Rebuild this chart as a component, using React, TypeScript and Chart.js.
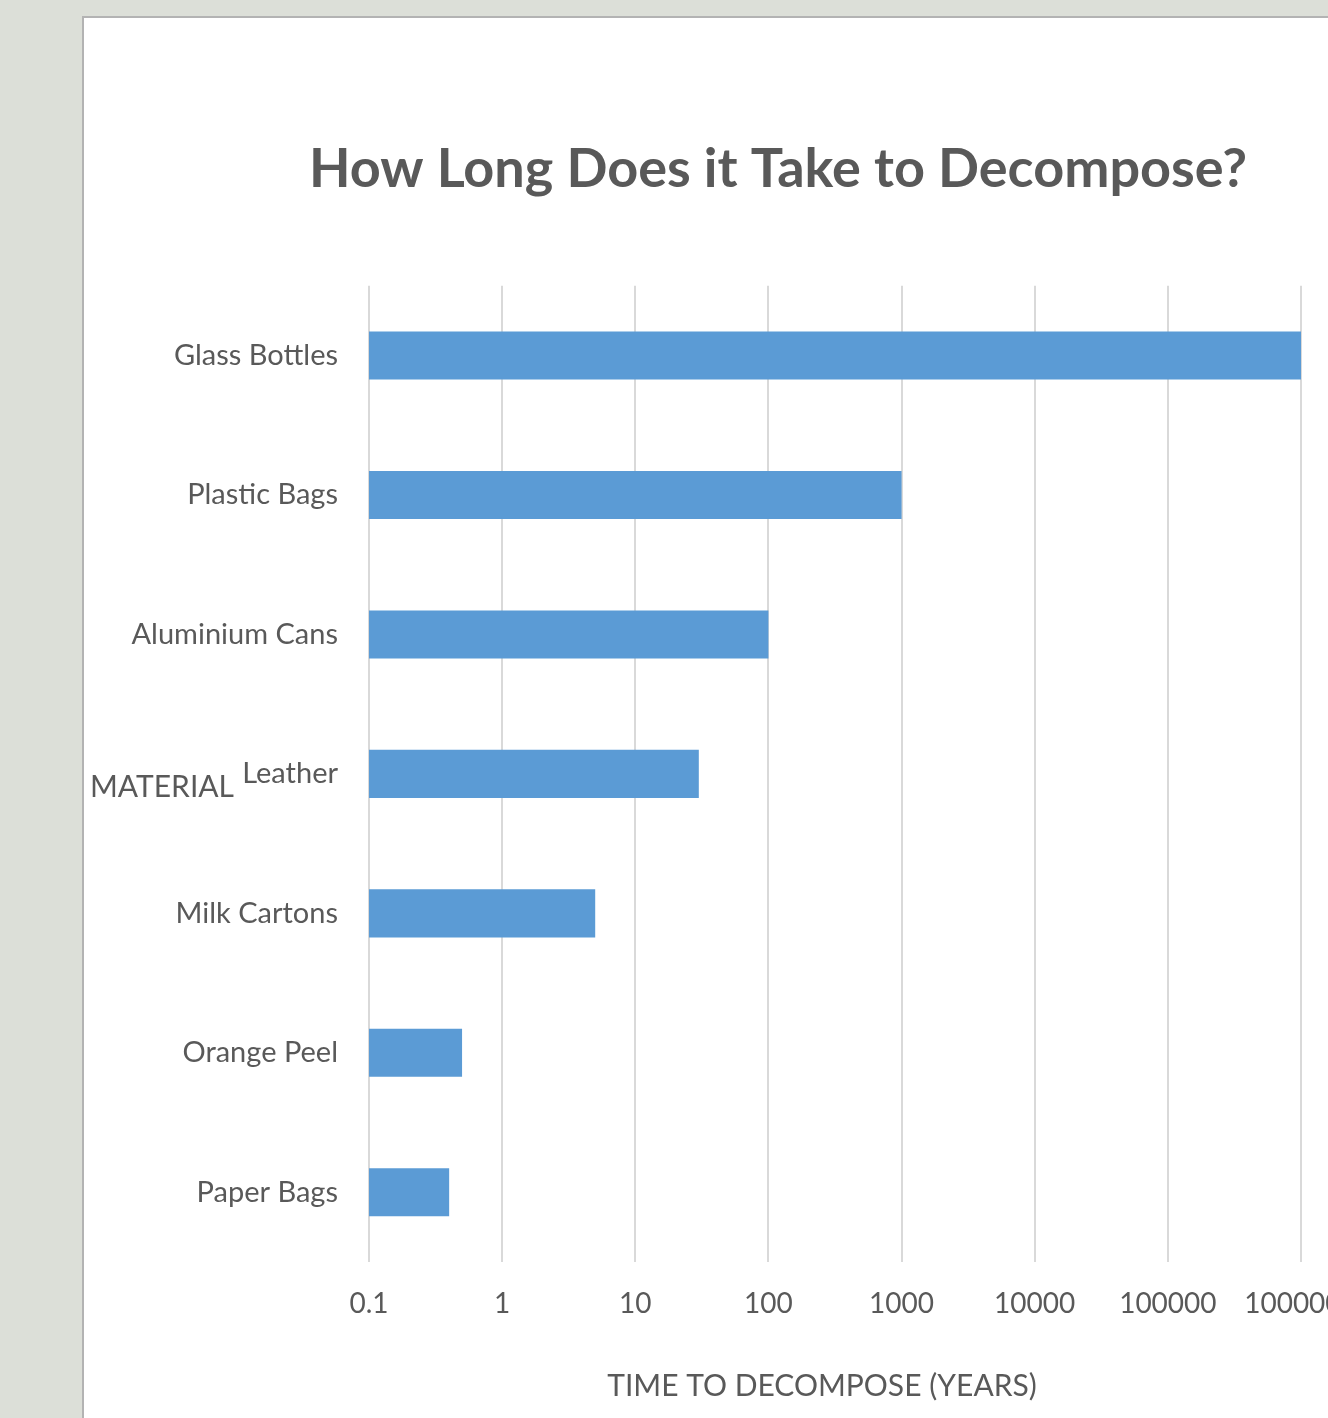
import React, { useEffect, useRef } from "react";
import { Chart, registerables } from "chart.js";

Chart.register(...registerables);

const categories = [
  "Glass Bottles",
  "Plastic Bags",
  "Aluminium Cans",
  "Leather",
  "Milk Cartons",
  "Orange Peel",
  "Paper Bags",
];
const years = [1000000, 1000, 100, 30, 5, 0.5, 0.4];
const tickValues = [0.1, 1, 10, 100, 1000, 10000, 100000, 1000000];
const tickLabels = ["0.1", "1", "10", "100", "1000", "10000", "100000", "1000000"];

const FONT = "Lato, 'Open Sans', sans-serif";
const TEXT = "#595959";

const yTitlePlugin = {
  id: "horizontalYTitle",
  afterDraw(chart: any) {
    const { ctx, chartArea } = chart;
    ctx.save();
    ctx.font = `30px ${FONT}`;
    ctx.fillStyle = TEXT;
    ctx.textAlign = "left";
    ctx.textBaseline = "middle";
    ctx.fillText("MATERIAL", 6, (chartArea.top + chartArea.bottom) / 2 + 13);
    ctx.restore();
  },
};

const xTitlePlugin = {
  id: "xAxisTitle",
  afterDraw(chart: any) {
    const { ctx, chartArea } = chart;
    ctx.save();
    ctx.font = `30px ${FONT}`;
    ctx.fillStyle = TEXT;
    ctx.textAlign = "center";
    ctx.textBaseline = "middle";
    ctx.fillText(
      "TIME TO DECOMPOSE (YEARS)",
      (chartArea.left + chartArea.right) / 2 - 13,
      chartArea.bottom + 124
    );
    ctx.restore();
  },
};

export default function App() {
  const ref = useRef<HTMLCanvasElement | null>(null);

  useEffect(() => {
    if (!ref.current) return;
    const chart = new Chart(ref.current, {
      type: "bar",
      data: {
        labels: categories,
        datasets: [
          {
            label: "Years",
            data: years,
            backgroundColor: "#5b9bd5",
            borderWidth: 0,
            barPercentage: 0.345,
            categoryPercentage: 1,
          },
        ],
      },
      plugins: [yTitlePlugin, xTitlePlugin],
      options: {
        indexAxis: "y",
        animation: false,
        responsive: true,
        maintainAspectRatio: false,
        layout: { padding: 0 },
        plugins: {
          legend: { display: false },
          tooltip: { enabled: false },
          title: {
            display: true,
            text: "How Long Does it Take to Decompose?",
            color: TEXT,
            font: { family: FONT, size: 54, weight: "bold" },
            padding: { top: 119, bottom: 84 },
          },
        },
        scales: {
          x: {
            type: "logarithmic",
            position: "bottom",
            min: 0.1,
            max: 1000000,
            afterBuildTicks: (s: any) => {
              s.ticks = tickValues.map((v) => ({ value: v }));
            },
            afterFit: (s: any) => {
              s.height = 156;
              s.paddingRight = 171;
            },
            grid: { color: "#d9d9d9", lineWidth: 2, drawTicks: false },
            border: { display: false },
            ticks: {
              autoSkip: false,
              maxRotation: 0,
              padding: 25,
              color: TEXT,
              font: { family: FONT, size: 28 },
              callback: (v: any) => {
                const i = tickValues.findIndex((t) => Math.abs(t - Number(v)) < 1e-9 * Math.max(1, t));
                return i >= 0 ? tickLabels[i] : "";
              },
            },
            title: { display: false },
          },
          y: {
            afterFit: (s: any) => {
              s.width = 285;
            },
            grid: { display: false, drawTicks: false },
            border: { display: false },
            ticks: {
              padding: 31,
              color: TEXT,
              font: { family: FONT, size: 29 },
            },
          },
        },
      },
    } as any);
    return () => chart.destroy();
  }, []);

  return (
    <div
      style={{
        position: "fixed",
        left: 0,
        top: 0,
        width: 1328,
        height: 1418,
        overflow: "hidden",
        background: "#dcdfd8",
      }}
    >
      <div
        style={{
          position: "absolute",
          left: 82,
          top: 16,
          width: 1400,
          height: 1500,
          background: "#ffffff",
          borderTop: "2px solid #b3b3b3",
          borderLeft: "2px solid #b3b3b3",
        }}
      >
        <div style={{ position: "absolute", left: 0, top: 0, width: 1388, height: 1400 }}>
          <canvas ref={ref} />
        </div>
      </div>
    </div>
  );
}
